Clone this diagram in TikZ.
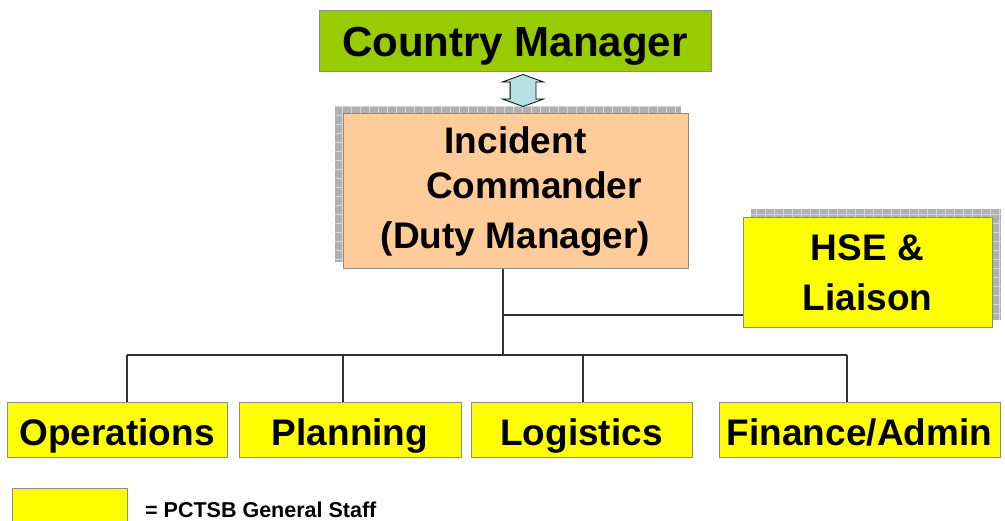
\documentclass[tikz,border=0pt]{standalone}
\usepackage{fontspec}
\setsansfont{Liberation Sans}
\usetikzlibrary{positioning, shapes.arrows, backgrounds}
\definecolor{cmgreen}{HTML}{99CC00}
\definecolor{icpeach}{HTML}{FFCC99}
\definecolor{staffyellow}{HTML}{FFFF00}
\definecolor{boxgray}{HTML}{8C8C8C}
\definecolor{linkblue}{HTML}{B7E0E4}
\definecolor{shadegray}{HTML}{B0B0B0}
\definecolor{shadegrid}{HTML}{D8D8D8}

\begin{document}
\begin{tikzpicture}[x=1pt, y=1pt,
    box/.style={draw=boxgray, line width=1pt, inner sep=0pt, text=black},
    staff/.style={box, fill=staffyellow, minimum height=55pt, text height=30pt, text depth=0pt,
        font=\sffamily\bfseries\fontsize{37}{44}\selectfont},
    link/.style={draw=black!80, line width=1.1pt},
    bigarrow/.style={shape=double arrow, rotate=90, draw=black, line width=0.8pt, fill=linkblue,
        minimum height=32pt, minimum width=40pt, inner xsep=0pt, inner ysep=12.5pt,
        double arrow head extend=7.5pt, double arrow tip angle=140},
    shade/.style={fill=shadegray},
    shadegridline/.style={draw=shadegrid, line width=0.6pt, step=9}]
        \useasboundingbox (0,0) rectangle (1005,520);

        % Draw the top boxes
        \node[box, fill=cmgreen, minimum width=392pt, minimum height=61pt, text height=30pt, text depth=0pt,
            font=\sffamily\bfseries\fontsize{42}{48}\selectfont] (cm) at (515,478.5) {Country Manager};
        \node[box, fill=icpeach, minimum width=345pt, minimum height=155pt, align=center,
            font=\sffamily\bfseries\fontsize{37}{45}\selectfont] (ic) at (515.5,328.5)
            {Incident\\\hspace*{1em}Commander\\[5pt](Duty Manager)};
        \node[box, fill=staffyellow, minimum width=249pt, minimum height=110pt, align=center,
            font=\sffamily\bfseries\fontsize{37}{50}\selectfont] (hse) at (867.5,247) {HSE \&\\Liaison};

        % Draw the general staff boxes
        \node[staff, minimum width=220pt] (ops) at (117,89.5) {Operations};
        \node[staff, minimum width=222pt] (plan) at (350,89.5) {Planning};
        \node[staff, minimum width=221pt] (log) at (581.5,89.5) {Logistics};
        \node[staff, minimum width=281pt] (fin) at (859.5,89.5) {Finance/Admin};

        % Draw the key
        \node[box, fill=staffyellow, minimum width=115pt, minimum height=40pt] (key) at (69.5,12) {};
        \node[font=\sffamily\bfseries\fontsize{21.5}{25}\selectfont, anchor=base west, inner sep=0pt]
            (keytext) at (145,3) {= PCTSB General Staff};

        % Draw the shadows behind the boxes
        \begin{scope}[on background layer]
            \fill[shade] ([shift={(-7.5,7.5)}]ic.south west) rectangle ([shift={(-7.5,7.5)}]ic.north east);
            \draw[shadegridline] ([shift={(-7.5,7.5)}]ic.south west) grid ([shift={(-7.5,7.5)}]ic.north east);
            \fill[shade] ([shift={(8,8)}]hse.south west) rectangle ([shift={(8,8)}]hse.north east);
            \draw[shadegridline] ([shift={(8,8)}]hse.south west) grid ([shift={(8,8)}]hse.north east);
        \end{scope}

        % Draw the link between the country manager and the incident commander
        \node[bigarrow] (cmlink) at (523,429.5) {};

        % Draw the reporting lines
        \coordinate (trunk) at (503,165);
        \coordinate (hsejoin) at (503,205);
        \coordinate (busleft) at (127,165);
        \coordinate (busright) at (847,165);
        \draw[link] (ic.south -| trunk) -- (trunk);
        \draw[link] (hsejoin) -- (hsejoin -| hse.west);
        \draw[link] (busleft) -- (busright);
        \foreach \name/\xx in {ops/127, plan/343, log/583, fin/847}
            \draw[link] (\xx,165) -- (\name.north -| \xx,0);
\end{tikzpicture}
\end{document}
